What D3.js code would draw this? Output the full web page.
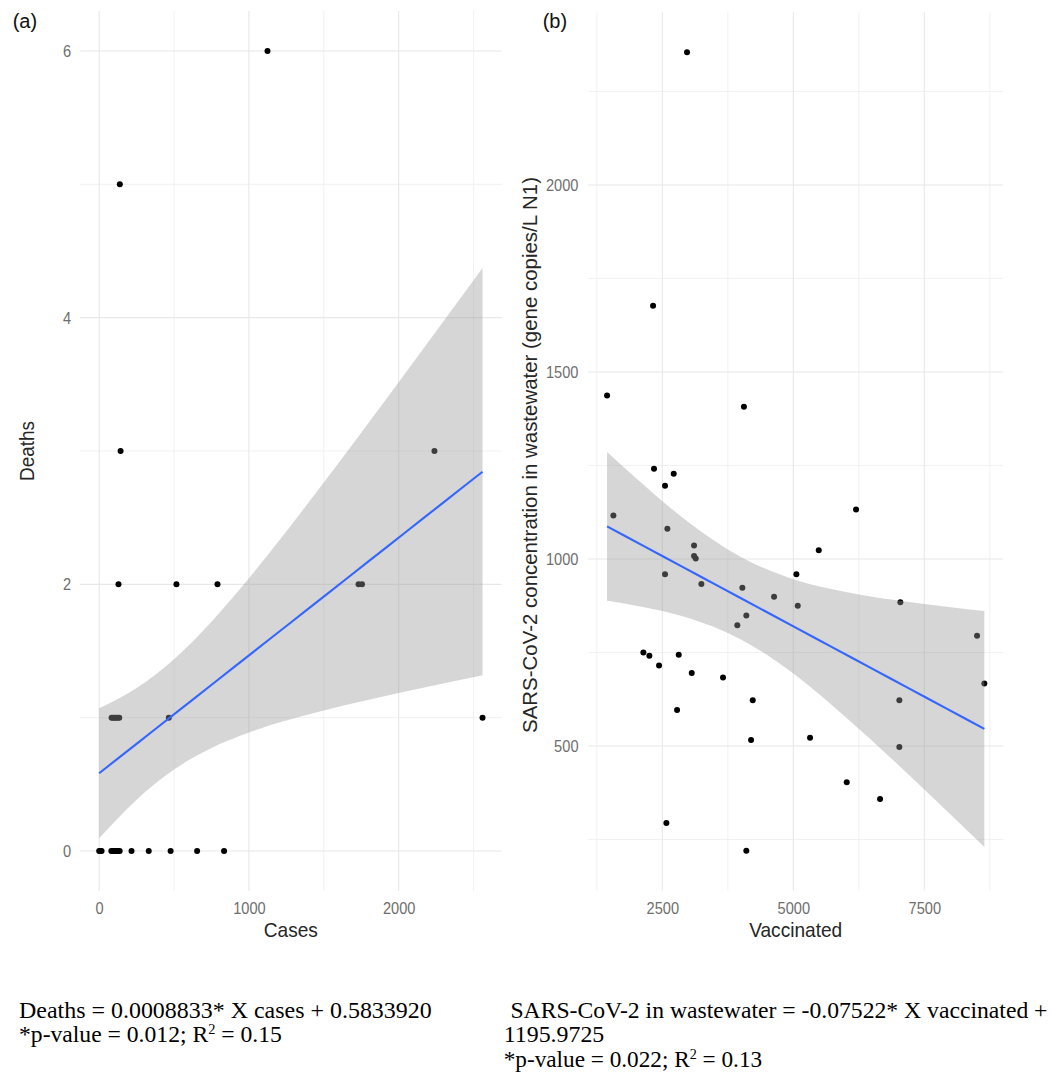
<!DOCTYPE html>
<html><head><meta charset="utf-8">
<script src="https://cdn.jsdelivr.net/npm/d3@7"></script>
<style>body{margin:0;background:#fff}</style>
</head><body><svg id="c" width="1053" height="1073"></svg>
<script>
// ---------- Panel (a): Cases vs Deaths ----------
const casesA  = [1124, 138, 143, 2239, 129, 516, 790, 1732, 1755,
                 83, 93, 103, 113, 124, 134, 465, 2560,
                 0, 8, 16, 81, 92, 103, 114, 125, 137, 216, 331, 477, 654, 834];
const deathsA = [6, 5, 3, 3, 2, 2, 2, 2, 2,
                 1, 1, 1, 1, 1, 1, 1, 1,
                 0, 0, 0, 0, 0, 0, 0, 0, 0, 0, 0, 0, 0, 0];
const fitA = [0.0008833, 0.5833920]; // slope, intercept
const bandCasesA = [0, 250, 500, 750, 1000, 1500, 2000, 2560];
const bandLowA   = [0.096, 0.385, 0.611, 0.772, 0.888, 1.053, 1.185, 1.318];
const bandHighA  = [1.071, 1.223, 1.439, 1.720, 2.046, 2.763, 3.515, 4.372];
const xTicksA = [0, 1000, 2000];
const yTicksA = [0, 2, 4, 6];

// ---------- Panel (b): Vaccinated vs wastewater ----------
const vaccB  = [2971, 2323, 1445, 4057, 2341, 2717, 2551, 6197, 1566, 2596,
                3105, 3105, 3137, 5485, 2551, 5058, 3245, 4027, 4632, 5084,
                7042, 4103, 3931, 8506, 2138, 2252, 2813, 2437, 3061, 3658,
                8645, 4225, 7023, 2781, 5319, 4193, 7023, 6019, 6655, 2577, 4103];
const wasteB = [2355, 1677, 1437, 1407, 1241, 1228, 1196, 1132, 1116, 1081,
                1036, 1008, 1001, 1023, 959, 959, 933, 923, 899, 875,
                884, 849, 823, 795, 750, 741, 744, 715, 695, 683,
                667, 622, 622, 596, 522, 516, 497, 403, 358, 294, 220];
const fitB = [-0.07522, 1195.9725];
const bandVaccB = [1445, 2000, 3000, 4000, 5000, 6000, 7000, 8000, 8645];
const bandLowB  = [888, 875, 842, 785, 694, 577, 450, 317, 230];
const bandHighB = [1286, 1216, 1098, 1005, 946, 912, 889, 871, 861];
const xTicksB = [2500, 5000, 7500];
const yTicksB = [500, 1000, 1500, 2000];

// ---------- Texts ----------
const panelLabels = ["(a)", "(b)"];
const xTitles = ["Cases", "Vaccinated"];
const yTitles = ["Deaths", "SARS-CoV-2 concentration in wastewater (gene copies/L N1)"];
const captionA = [
  [{t: "Deaths = 0.0008833* X cases + 0.5833920"}],
  [{t: "*p-value = 0.012; R"}, {t: "2", sup: true}, {t: " = 0.15"}]
];
const captionB = [
  [{t: "SARS-CoV-2 in wastewater = -0.07522* X vaccinated +"}],
  [{t: "1195.9725"}],
  [{t: "*p-value = 0.022; R"}, {t: "2", sup: true}, {t: " = 0.13"}]
];

const svg = d3.select("#c");
svg.append("rect").attr("width", 1053).attr("height", 1073).attr("fill", "#fff");

const SANS = "'Liberation Sans', Arial, Helvetica, sans-serif";
const SERIF = "'Liberation Serif', 'Times New Roman', serif";

function expand(ext, f) { const d = (ext[1] - ext[0]) * f; return [ext[0] - d, ext[1] + d]; }

function minorTicks(ticks, domain) {
  const step = ticks[1] - ticks[0];
  const out = [];
  for (let v = ticks[0] - step / 2; v <= domain[1]; v += step) if (v >= domain[0]) out.push(v);
  return out;
}

function squeeze(sel, sx) {
  sel.each(function () {
    const t = d3.select(this);
    const x = +t.attr("x") || 0;
    t.attr("x", x / sx).attr("transform", `scale(${sx},1)`);
  });
}

function drawPanel(cfg) {
  const x = d3.scaleLinear().domain(expand(d3.extent(cfg.xs), 0.05)).range(cfg.xRange);
  const y = d3.scaleLinear().domain(expand(d3.extent(cfg.ys), 0.05)).range(cfg.yRange);
  const g = svg.append("g");
  const [x0, x1] = cfg.xRange, [y0, y1] = cfg.yRange;

  // minor grid
  g.selectAll(".mx").data(minorTicks(cfg.xTicks, x.domain())).join("line")
    .attr("x1", d => x(d)).attr("x2", d => x(d)).attr("y1", y0).attr("y2", y1)
    .attr("stroke", "#efefef").attr("stroke-width", 0.9);
  g.selectAll(".my").data(minorTicks(cfg.yTicks, y.domain())).join("line")
    .attr("y1", d => y(d)).attr("y2", d => y(d)).attr("x1", x0).attr("x2", x1)
    .attr("stroke", "#efefef").attr("stroke-width", 0.9);
  // major grid
  g.selectAll(".Mx").data(cfg.xTicks).join("line")
    .attr("x1", d => x(d)).attr("x2", d => x(d)).attr("y1", y0).attr("y2", y1)
    .attr("stroke", "#e8e8e8").attr("stroke-width", 1.1);
  g.selectAll(".My").data(cfg.yTicks).join("line")
    .attr("y1", d => y(d)).attr("y2", d => y(d)).attr("x1", x0).attr("x2", x1)
    .attr("stroke", "#e8e8e8").attr("stroke-width", 1.1);

  // axes
  const ax = g.append("g").attr("transform", `translate(0,${y0})`)
    .call(d3.axisBottom(x).tickValues(cfg.xTicks).tickFormat(d3.format("d")).tickSize(0).tickPadding(11));
  const ay = g.append("g").attr("transform", `translate(${x0},0)`)
    .call(d3.axisLeft(y).tickValues(cfg.yTicks).tickFormat(d3.format("d")).tickSize(0).tickPadding(cfg.yPad));
  [ax, ay].forEach(a => {
    a.select(".domain").remove();
    a.selectAll("text").attr("fill", "#6e6e6e").style("font-family", SANS).style("font-size", "17px");
  });
  squeeze(ax.selectAll("text"), 0.86);
  squeeze(ay.selectAll("text"), 0.86);

  // points
  g.selectAll(".pt").data(cfg.xs.map((v, i) => [v, cfg.ys[i]])).join("circle")
    .attr("cx", d => x(d[0])).attr("cy", d => y(d[1])).attr("r", 3).attr("fill", "#000");

  // confidence band
  const band = cfg.bandX.map((v, i) => [v, cfg.bandLow[i], cfg.bandHigh[i]]);
  g.append("path").datum(band)
    .attr("d", d3.area().x(d => x(d[0])).y0(d => y(d[1])).y1(d => y(d[2])).curve(d3.curveMonotoneX))
    .attr("fill", "#999999").attr("fill-opacity", 0.4);

  // fitted line
  const xe = d3.extent(cfg.xs);
  const steps = d3.range(0, 21).map(k => xe[0] + (xe[1] - xe[0]) * k / 20);
  g.append("path").datum(steps)
    .attr("d", d3.line().x(d => x(d)).y(d => y(cfg.fit[0] * d + cfg.fit[1])))
    .attr("fill", "none").attr("stroke", "#3366FF").attr("stroke-width", 2.1);

  // x title
  g.append("text").attr("x", 0).attr("y", 0)
    .attr("transform", `translate(${(x0 + x1) / 2},${cfg.xTitleY}) scale(0.955,1)`)
    .attr("text-anchor", "middle").attr("fill", "#262626")
    .style("font-family", SANS).style("font-size", "20px").text(cfg.xTitle);

  // y title
  const yt = g.append("text").attr("text-anchor", "middle").attr("fill", "#262626")
    .style("font-family", SANS).style("font-size", "20px").text(cfg.yTitle);
  const nat = yt.node().getComputedTextLength();
  const sy = cfg.yTitleLen / nat;
  yt.attr("transform", `translate(${cfg.yTitleX},${(y0 + y1) / 2 + cfg.yTitleShift}) rotate(-90) scale(${sy},1)`);

  // panel label
  g.append("text").attr("x", cfg.labelX).attr("y", 27.5).attr("fill", "#111")
    .style("font-family", SANS).style("font-size", "20px").text(cfg.label);
}

drawPanel({
  xs: casesA, ys: deathsA, fit: fitA,
  bandX: bandCasesA, bandLow: bandLowA, bandHigh: bandHighA,
  xTicks: xTicksA, yTicks: yTicksA,
  xRange: [80, 501.7], yRange: [891, 11], yPad: 9,
  xTitle: xTitles[0], xTitleY: 937,
  yTitle: yTitles[0], yTitleX: 34.4, yTitleLen: 60, yTitleShift: 0,
  label: panelLabels[0], labelX: 12.7
});
drawPanel({
  xs: vaccB, ys: wasteB, fit: fitB,
  bandX: bandVaccB, bandLow: bandLowB, bandHigh: bandHighB,
  xTicks: xTicksB, yTicks: yTicksB,
  xRange: [588.2, 1003.2], yRange: [890.6, 12.3], yPad: 9.7,
  xTitle: xTitles[1], xTitleY: 937,
  yTitle: yTitles[1], yTitleX: 536.7, yTitleLen: 556, yTitleShift: 3.5,
  label: panelLabels[1], labelX: 542.7
});

// captions
function caption(lines, x, baselines, widths) {
  lines.forEach((parts, i) => {
    const gl = svg.append("g");
    const t = gl.append("text").attr("x", 0).attr("y", 0).attr("fill", "#000")
      .style("font-family", SERIF).style("font-size", "23px");
    parts.forEach(p => {
      if (p.sup) {
        t.append("tspan").attr("dy", -8).style("font-size", "14px").text(p.t);
      } else {
        const ts = t.append("tspan").text(p.t);
        if (t.selectAll("tspan").size() > 1) ts.attr("dy", 8);
      }
    });
    const w = t.node().getComputedTextLength();
    gl.attr("transform", `translate(${x[i]},${baselines[i]}) scale(${widths[i] / w},1)`);
  });
}
caption(captionA, [19, 19], [1018, 1041.7], [413, 263]);
caption(captionB, [510.4, 503.7, 503.7], [1018, 1041.7, 1066.7], [537.3, 100.7, 258.6]);
</script>
</body></html>
